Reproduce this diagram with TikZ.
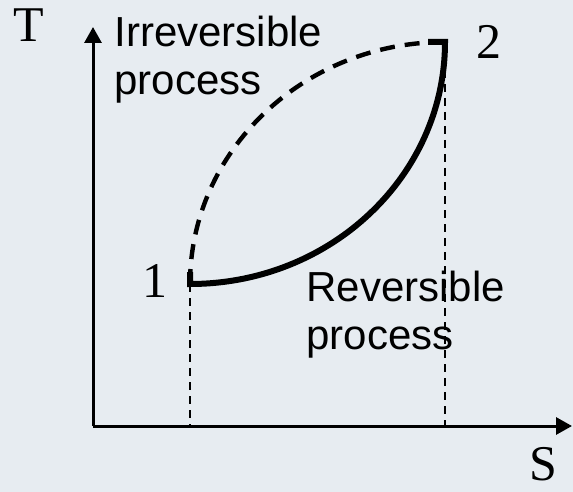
\documentclass[tikz,border=0pt]{standalone}
\usepackage{fontspec}
\setmainfont{Liberation Serif}
\setsansfont{Liberation Sans}
\usetikzlibrary{calc, arrows.meta}
\definecolor{bgpaper}{RGB}{231,236,241}

\begin{document}
\begin{tikzpicture}[x=0.5pt, y=-0.5pt,
  axis/.style={line width=1.5pt, -{Triangle[length=8pt, width=8.5pt]}},
  guide/.style={line width=0.7pt, dash pattern=on 4pt off 3pt},
  irrev/.style={line width=2.2pt, dash pattern=on 7.5pt off 5pt},
  rev/.style={line width=3pt},
  lbl/.style={inner sep=0pt, font=\fontsize{25}{30}\selectfont},
  txt/.style={inner sep=0pt, align=left, anchor=north west,
    font=\sffamily\fontsize{21}{24}\selectfont}]
  \fill[bgpaper] (0,0) rectangle (573,492);
  \useasboundingbox (0,0) rectangle (573,492);
  \coordinate (O) at (93,426);
  \coordinate (Ttip) at (93,27);
  \coordinate (Stip) at (572,426);
  \coordinate (p1) at (190,284);
  \coordinate (p2) at (445,42);
  \coordinate (f1) at (190,426);
  \coordinate (f2) at (445,426);
  % axes
  \draw[axis] (O) -- (Ttip);
  \draw[axis] (O) -- (Stip);
  % guides down to the S axis
  \draw[guide] (p1) -- (f1);
  \draw[guide] (p2) -- (f2);
  % irreversible path
  \draw[irrev] (p1) arc[start angle=180, end angle=90, x radius=255, y radius=-242];
  % reversible path
  \draw[rev, line join=miter] ($(p1)+(0,-12)$) -- (p1)
    arc[start angle=270, end angle=360, x radius=255, y radius=-242]
    -- ($(p2)+(-17,0)$);
  \node[lbl] (T) at (29,25) {T};
  \node[lbl] (S) at (543,464) {S};
  \node[lbl] (n1) at (155,281) {1};
  \node[lbl] (n2) at (489,42) {2};
  \node[txt] (irr) at (114,16) {Irreversible\\process};
  \node[txt] (rv) at (306,271) {Reversible\\process};
\end{tikzpicture}
\end{document}
